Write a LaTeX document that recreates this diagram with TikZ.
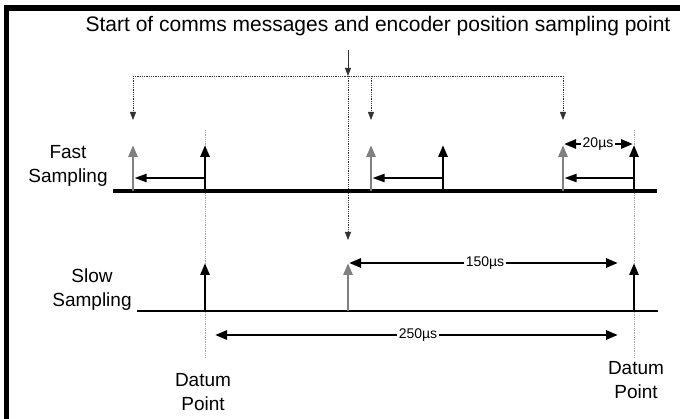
\documentclass[tikz,border=0pt]{standalone}
\usepackage{fontspec}
\setmainfont{Liberation Sans}
\usepackage{tikz}
\usetikzlibrary{positioning, arrows.meta}

\begin{document}
\begin{tikzpicture}[
    x=1pt, y=-1pt,
    every node/.style={font=\fontsize{19}{24}\selectfont, align=center, inner sep=0pt},
    heading/.style={font=\fontsize{21}{24}\selectfont},
    small/.style={font=\fontsize{14}{16}\selectfont, fill=white, inner sep=2pt},
    pulse/.style={line width=2.8pt, -{Triangle[length=12pt, width=9pt]}},
    ghost/.style={pulse, color=gray},
    back/.style={line width=2pt, -{Triangle[length=12pt, width=8pt]}},
    span/.style={line width=2.8pt, {Triangle[length=12pt, width=9pt]}-{Triangle[length=12pt, width=9pt]}},
    guide/.style={densely dotted, line width=0.8pt, black!80},
    cue/.style={guide, -{Triangle[length=8pt, width=6pt]}},
    datum/.style={densely dotted, line width=0.8pt, gray!70}
]
\useasboundingbox (0,0) rectangle (680,419);
\draw[line width=5.5pt] (6.5,419) -- (6.5,8) -- (680,8);

\node[heading, anchor=base] (title) at (378,32) {Start of comms messages and encoder position sampling point};
\coordinate (feed) at (348,50);
\coordinate (split) at (348,76);
\coordinate (fastL) at (113,191);
\coordinate (fastR) at (657,191);
\coordinate (slowL) at (137,311);
\coordinate (slowR) at (658,311);

\draw[datum] (205,130) -- (205,357);
\draw[datum] (634,130) -- (634,357);

\draw[line width=1pt, black!80, -{Triangle[length=8pt, width=6pt]}] (feed) -- (split);
\draw[guide] (133,76) -- (563,76);
\foreach \x in {133,371,563}
    \draw[cue] (\x,76) -- (\x,120);
\draw[cue] (split) -- (348,240);

\node (fast) at (68,166) {Fast\\Sampling};
\draw[line width=3.2pt] (fastL) -- (fastR);
\foreach \g/\b in {133/205, 371/443, 563/634} {
    \draw[ghost] (\g,191) -- (\g,145);
    \draw[pulse] (\b,191) -- (\b,145);
    \draw[back] (\b,178) -- (\g+1.5,178);
}
\draw[span] (564,144) -- (633,144);
\node[small] (fastgap) at (598,144) {20µs};

\node (slow) at (92,290) {Slow\\Sampling};
\draw[line width=2.4pt] (slowL) -- (slowR);
\draw[pulse] (205,311) -- (205,263);
\draw[ghost] (348,311) -- (348,263);
\draw[pulse] (634,311) -- (634,263);
\draw[span] (349,263) -- (618,263);
\node[small] (slowgap) at (485,263) {150µs};
\draw[span] (215,335) -- (618,335);
\node[small] (period) at (418,335) {250µs};

\node (datumA) at (203,392) {Datum\\Point};
\node (datumB) at (636,380) {Datum\\Point};
\end{tikzpicture}
\end{document}
